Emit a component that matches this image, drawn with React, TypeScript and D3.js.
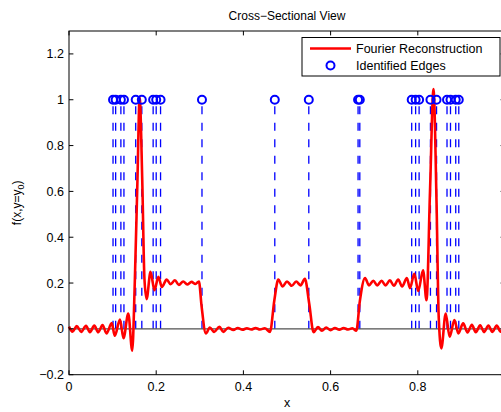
import React, { useEffect, useRef } from "react";
import * as d3 from "d3";

// reconstructed cross-section (peaks / troughs)
const reconX = [
  0.000, 0.008, 0.018, 0.028, 0.039, 0.048, 0.058, 0.067, 0.077, 0.086,
  0.098, 0.105, 0.117, 0.125, 0.136, 0.145, 0.151, 0.157, 0.162, 0.168,
  0.173, 0.178, 0.187, 0.196, 0.205, 0.213, 0.224, 0.233, 0.243, 0.252,
  0.262, 0.271, 0.281, 0.290, 0.298, 0.304, 0.314, 0.323, 0.333, 0.345,
  0.354, 0.365, 0.377, 0.387, 0.398, 0.408, 0.418, 0.428, 0.438, 0.449,
  0.461, 0.471, 0.480, 0.490, 0.500, 0.511, 0.521, 0.531, 0.541, 0.551,
  0.561, 0.571, 0.580, 0.590, 0.600, 0.610, 0.620, 0.630, 0.640, 0.650,
  0.659, 0.667, 0.679, 0.688, 0.698, 0.707, 0.717, 0.726, 0.736, 0.745,
  0.755, 0.764, 0.775, 0.782, 0.792, 0.801, 0.812, 0.820, 0.828, 0.836,
  0.843, 0.848, 0.854, 0.864, 0.873, 0.884, 0.893, 0.904, 0.914, 0.924,
  0.933, 0.943, 0.952, 0.962, 0.971, 0.981, 0.990, 1.000,
];
const reconY = [
  0.010, -0.012, 0.012, -0.013, 0.013, -0.014, 0.014, -0.015, 0.017, -0.020,
  0.025, -0.030, 0.041, -0.041, 0.067, -0.095, 0.210, 0.650, 1.010, 0.650,
  0.220, 0.130, 0.249, 0.169, 0.227, 0.183, 0.215, 0.195, 0.212, 0.192,
  0.207, 0.194, 0.205, 0.196, 0.207, 0.100, -0.020, 0.006, -0.013, 0.009,
  -0.013, 0.005, -0.005, 0.004, -0.004, 0.003, -0.003, 0.004, -0.003, 0.003,
  -0.013, 0.125, 0.215, 0.185, 0.207, 0.188, 0.207, 0.190, 0.218, 0.110,
  -0.015, 0.008, -0.008, 0.006, -0.006, 0.004, -0.004, 0.004, -0.003, 0.003,
  -0.008, 0.120, 0.222, 0.190, 0.210, 0.190, 0.210, 0.190, 0.212, 0.188,
  0.215, 0.185, 0.222, 0.178, 0.240, 0.165, 0.256, 0.125, 0.600, 1.047,
  0.550, 0.050, -0.085, 0.067, -0.034, 0.038, -0.020, 0.024, -0.016, 0.018,
  -0.015, 0.016, -0.014, 0.015, -0.013, 0.014, -0.012, 0.010,
];

// identified edge locations
const edgeX = [
  0.101, 0.107, 0.119, 0.126, 0.153, 0.167, 0.193, 0.200, 0.210, 0.305,
  0.472, 0.550, 0.663, 0.667,
  0.786, 0.795, 0.803, 0.829, 0.843, 0.867, 0.875, 0.887, 0.894,
];
const edgeLevel = 1;

const xTicks = [0, 0.2, 0.4, 0.6, 0.8, 1];
const yTicks = [-0.2, 0, 0.2, 0.4, 0.6, 0.8, 1, 1.2];

const FONT = "'Liberation Sans', Arial, Helvetica, sans-serif";

export default function App() {
  const ref = useRef<SVGSVGElement>(null);

  useEffect(() => {
    const W = 501, H = 412;
    const left = 69, right = 505, top = 31, bottom = 374.7;

    const svg = d3.select(ref.current);
    svg.selectAll("*").remove();
    svg.attr("width", W).attr("height", H);

    const x = d3.scaleLinear().domain([0, 1]).range([left, right]);
    const y = d3.scaleLinear().domain([-0.2, 1.3]).range([bottom, top]);

    const g = svg.append("g");

    // dashed edge markers
    g.selectAll(".edge_line")
      .data(edgeX)
      .join("line")
      .attr("class", "edge_line")
      .attr("x1", d => x(d)).attr("x2", d => x(d))
      .attr("y1", y(0)).attr("y2", y(edgeLevel))
      .attr("stroke", "#0000ff")
      .attr("stroke-width", 1.3)
      .attr("stroke-dasharray", "8,8.5");

    // zero line
    g.append("line")
      .attr("x1", x(0)).attr("x2", x(1))
      .attr("y1", y(0)).attr("y2", y(0))
      .attr("stroke", "#505050")
      .attr("stroke-width", 1.2);

    // Fourier reconstruction
    const pts = reconX.map((v, i) => [v, reconY[i]] as [number, number]);
    const line = d3.line<[number, number]>()
      .x(d => x(d[0]))
      .y(d => y(d[1]))
      .curve(d3.curveMonotoneX);
    g.append("path")
      .datum(pts)
      .attr("d", line)
      .attr("fill", "none")
      .attr("stroke", "#ff0000")
      .attr("stroke-width", 2.6)
      .attr("stroke-linejoin", "round");

    // edge circles
    g.selectAll(".edge_pt")
      .data(edgeX)
      .join("circle")
      .attr("class", "edge_pt")
      .attr("cx", d => x(d))
      .attr("cy", y(edgeLevel))
      .attr("r", 4)
      .attr("fill", "none")
      .attr("stroke", "#0000ff")
      .attr("stroke-width", 2);

    // axes box
    const ax = svg.append("g").attr("stroke", "#000").attr("stroke-width", 1);
    ax.append("rect")
      .attr("x", left).attr("y", top)
      .attr("width", right - left).attr("height", bottom - top)
      .attr("fill", "none");

    const tl = 4.4;
    xTicks.forEach(t => {
      ax.append("line").attr("x1", x(t)).attr("x2", x(t)).attr("y1", bottom).attr("y2", bottom - tl);
      ax.append("line").attr("x1", x(t)).attr("x2", x(t)).attr("y1", top).attr("y2", top + tl);
    });
    yTicks.forEach(t => {
      ax.append("line").attr("x1", left).attr("x2", left + tl).attr("y1", y(t)).attr("y2", y(t));
      ax.append("line").attr("x1", right).attr("x2", right - tl).attr("y1", y(t)).attr("y2", y(t));
    });

    const fmt = (v: number) => (v === 0 ? "0" : v === 1 ? "1" : d3.format(".1f")(v)).replace("-", "\u2212");

    // the last x label falls past the visible canvas, as in the reference
    svg.selectAll(".xlab")
      .data(xTicks.filter(t => x(t) < W - 6))
      .join("text")
      .attr("class", "xlab")
      .attr("x", d => x(d))
      .attr("y", bottom + 16.5)
      .attr("text-anchor", "middle")
      .style("font-family", FONT)
      .style("font-size", "12.5px")
      .text(d => fmt(d));

    svg.selectAll(".ylab")
      .data(yTicks)
      .join("text")
      .attr("class", "ylab")
      .attr("x", left - 5)
      .attr("y", d => y(d) + 4.5)
      .attr("text-anchor", "end")
      .style("font-family", FONT)
      .style("font-size", "12.5px")
      .text(d => fmt(d));

    svg.append("text")
      .attr("x", (left + right) / 2)
      .attr("y", 20)
      .attr("text-anchor", "middle")
      .style("font-family", FONT)
      .style("font-size", "12px")
      .text("Cross\u2212Sectional View");

    svg.append("text")
      .attr("x", (left + right) / 2)
      .attr("y", 407)
      .attr("text-anchor", "middle")
      .style("font-family", FONT)
      .style("font-size", "12.5px")
      .text("x");

    const yl = svg.append("text")
      .attr("transform", `translate(21, ${(top + bottom) / 2}) rotate(-90)`)
      .attr("text-anchor", "middle")
      .style("font-family", FONT)
      .style("font-size", "12px");
    yl.append("tspan").text("f(x,y=y");
    yl.append("tspan").attr("dy", 3).style("font-size", "9px").text("0");
    yl.append("tspan").attr("dy", -3).text(")");

    // legend
    const lg = svg.append("g");
    lg.append("rect")
      .attr("x", 302).attr("y", 37.5)
      .attr("width", 198).attr("height", 38.5)
      .attr("fill", "#fff")
      .attr("stroke", "#000")
      .attr("stroke-width", 1);
    lg.append("line")
      .attr("x1", 310).attr("x2", 351)
      .attr("y1", 48.5).attr("y2", 48.5)
      .attr("stroke", "#ff0000")
      .attr("stroke-width", 2.6);
    lg.append("circle")
      .attr("cx", 330.5).attr("cy", 65.5).attr("r", 4)
      .attr("fill", "none")
      .attr("stroke", "#0000ff")
      .attr("stroke-width", 2);
    lg.append("text")
      .attr("x", 356).attr("y", 53)
      .style("font-family", FONT).style("font-size", "12.5px")
      .text("Fourier Reconstruction");
    lg.append("text")
      .attr("x", 356).attr("y", 70)
      .style("font-family", FONT).style("font-size", "12.5px")
      .text("Identified Edges");
  }, []);

  return (
    <svg ref={ref} style={{ position: "absolute", left: 0, top: 0, background: "#fff" }} />
  );
}
